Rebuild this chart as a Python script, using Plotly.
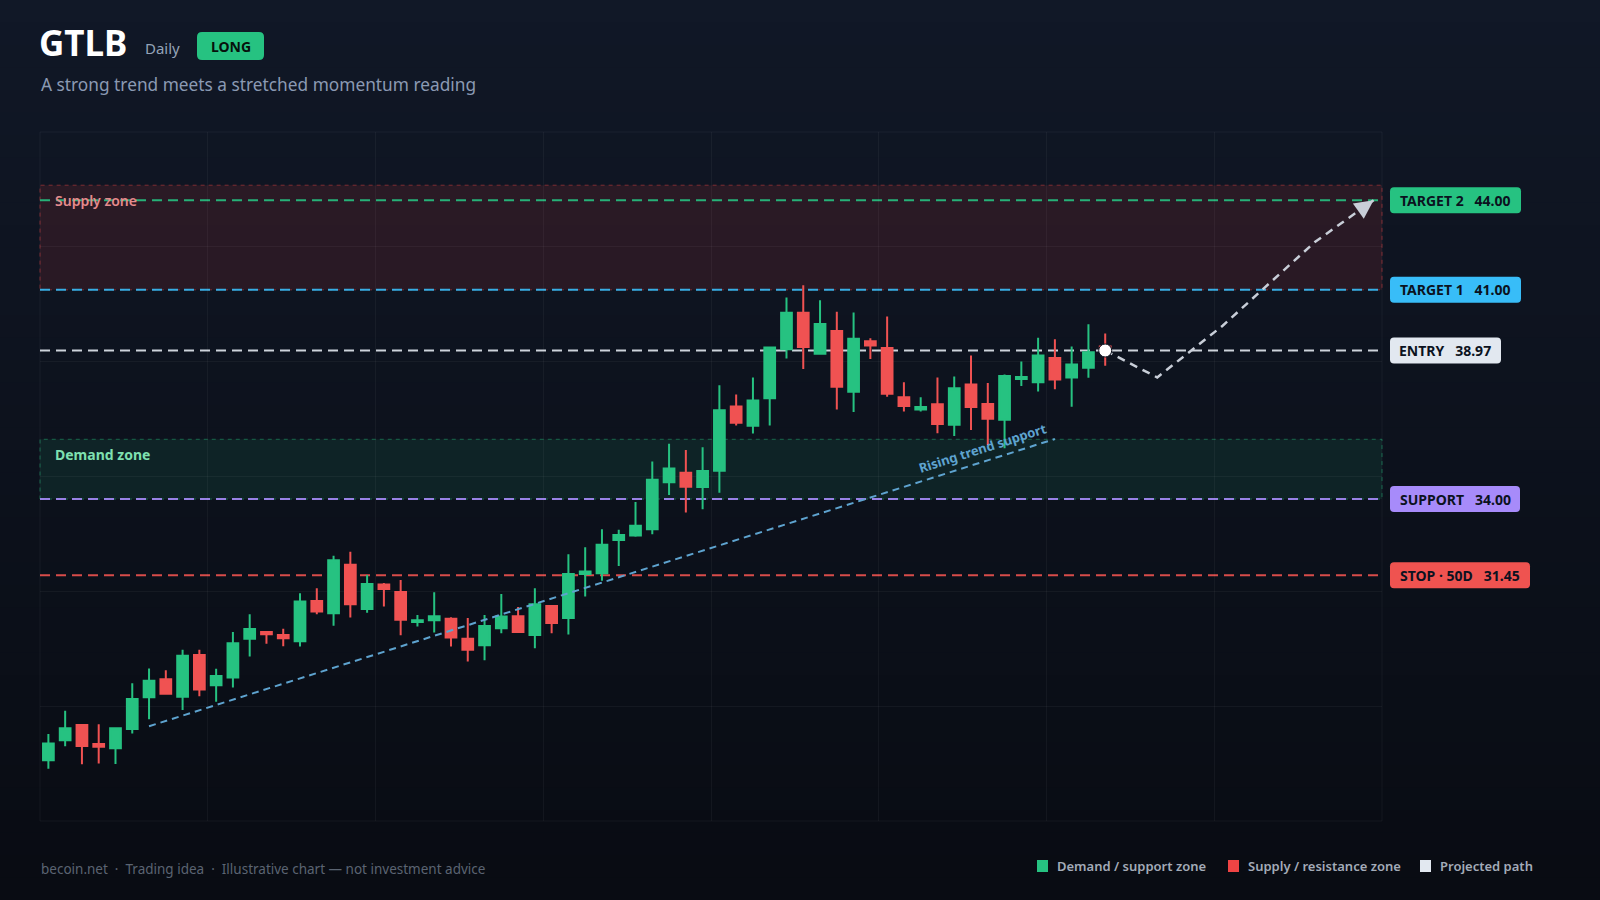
import numpy as np
import plotly.graph_objects as go

# --- data (daily candles, index-based x) ---
opens = [25.26, 25.93, 26.44, 25.81, 25.66, 26.31, 27.37, 27.97, 27.39, 28.78,
         27.77, 28.03, 29.33, 29.55, 29.45, 29.24, 30.59, 30.18, 31.80, 30.32,
         31.14, 30.89, 29.89, 29.95, 30.00, 29.33, 29.11, 29.68, 30.08, 29.45,
         30.42, 30.02, 31.49, 31.52, 32.63, 32.78, 32.99, 34.56, 34.88, 34.40,
         34.95, 37.10, 36.45, 37.37, 39.01, 40.23, 38.86, 39.62, 37.59, 39.28,
         39.05, 37.41, 37.00, 37.17, 36.49, 37.83, 37.18, 36.65, 38.02, 37.91,
         38.72, 38.07, 38.39, 39.10]
highs = [26.14, 26.92, 26.47, 26.47, 26.35, 27.84, 28.33, 28.27, 28.96, 28.96,
         28.32, 29.55, 30.15, 29.56, 29.66, 30.85, 31.02, 32.10, 32.24, 31.46,
         31.19, 31.29, 30.12, 30.88, 30.05, 30.02, 30.12, 30.82, 30.39, 31.02,
         30.45, 32.15, 32.39, 32.99, 32.97, 33.90, 35.26, 35.85, 35.64, 35.73,
         37.81, 37.50, 38.07, 39.10, 40.74, 41.15, 40.65, 40.27, 40.24, 39.38,
         40.11, 37.91, 37.41, 38.07, 38.10, 38.80, 37.88, 38.17, 38.60, 39.40,
         39.35, 39.10, 39.85, 39.54]
lows = [24.98, 25.73, 25.13, 25.15, 25.14, 26.16, 26.63, 27.45, 26.94, 27.40,
        27.22, 27.70, 28.73, 29.16, 29.08, 29.07, 30.15, 29.76, 30.04, 30.20,
        30.41, 29.44, 29.74, 29.54, 29.07, 28.57, 28.61, 29.51, 29.55, 29.01,
        29.51, 29.47, 30.74, 31.27, 31.76, 32.74, 32.82, 34.14, 33.55, 33.66,
        34.21, 36.46, 36.19, 36.46, 38.70, 38.35, 38.84, 37.00, 36.91, 38.69,
        37.42, 36.93, 36.93, 36.20, 36.11, 36.31, 35.81, 35.70, 37.78, 37.60,
        37.67, 37.09, 38.06, 38.46]
closes = [25.82, 26.33, 25.74, 25.71, 26.33, 27.31, 27.92, 27.49, 28.76, 27.63,
          28.08, 29.18, 29.65, 29.48, 29.34, 30.57, 30.24, 31.95, 30.48, 31.16,
          30.99, 29.96, 29.95, 30.08, 29.37, 28.96, 29.75, 30.07, 29.55, 30.48,
          29.85, 31.49, 31.58, 32.47, 32.80, 33.11, 34.65, 35.02, 34.41, 34.94,
          36.97, 36.55, 37.30, 39.07, 40.23, 39.09, 39.86, 37.76, 39.36, 39.14,
          37.52, 37.11, 37.08, 36.51, 37.71, 37.08, 36.69, 38.12, 38.08, 38.80,
          38.00, 38.50, 38.91, 38.97]
bars = list(range(len(closes)))

# key levels
level_names = ["TARGET 2", "TARGET 1", "ENTRY", "SUPPORT", "STOP · 50D"]
level_values = [44.00, 41.00, 38.97, 34.00, 31.45]
level_colors = ["#26c281", "#38bdf8", "#e2e8f0", "#a78bfa", "#ef5350"]
label_widths = [131, 131, 111, 130, 140]

supply_zone = (41.0, 44.5)
demand_zone = (34.0, 36.0)

trend_x = [6, 60]
trend_y = [26.40, 36.01]

proj_x = [63, 66.1, 70, 75.5, 79]
proj_y = [38.97, 38.07, 39.80, 42.60, 44.00]

X_RANGE = [-0.5, 79.5]
Y_RANGE = [23.23, 46.28]

GREEN = "#26c281"
RED = "#f05252"

W, H = 1600, 900
ML, MR, MT, MB = 40, 218, 132, 79
PW, PH = W - ML - MR, H - MT - MB
Y_PER_PX = (Y_RANGE[1] - Y_RANGE[0]) / PH


def px(x):
    return (x - ML) / PW


def py(y):
    return (H - MB - y) / PH


def rounded_box(x0, x1, yc, h_px, r_px, yref_data=True):
    # x0/x1 in pixels; yc in data units (or pixels if yref_data is False)
    rx = r_px / PW
    a, b = px(x0), px(x1)
    if yref_data:
        ry = r_px * Y_PER_PX
        lo, hi = yc - h_px / 2 * Y_PER_PX, yc + h_px / 2 * Y_PER_PX
    else:
        ry = r_px / PH
        lo, hi = py(yc + h_px / 2), py(yc - h_px / 2)
    return (f"M {a + rx},{lo} L {b - rx},{lo} Q {b},{lo} {b},{lo + ry} "
            f"L {b},{hi - ry} Q {b},{hi} {b - rx},{hi} L {a + rx},{hi} "
            f"Q {a},{hi} {a},{hi - ry} L {a},{lo + ry} Q {a},{lo} {a + rx},{lo} Z")


fig = go.Figure()

fig.add_trace(
    go.Candlestick(
        x=bars,
        open=opens,
        high=highs,
        low=lows,
        close=closes,
        increasing=dict(line=dict(color=GREEN, width=2), fillcolor=GREEN),
        decreasing=dict(line=dict(color=RED, width=2), fillcolor=RED),
        whiskerwidth=0,
        showlegend=False,
        hoverinfo="skip",
    )
)

fig.add_trace(
    go.Scatter(
        x=trend_x, y=trend_y, mode="lines",
        line=dict(color="#5ea3cf", width=2, dash="7px,5px"),
        showlegend=False, hoverinfo="skip",
    )
)

fig.add_trace(
    go.Scatter(
        x=proj_x, y=proj_y, mode="lines",
        line=dict(color="#c8ced8", width=2.5, dash="8px,6px"),
        showlegend=False, hoverinfo="skip",
    )
)

fig.add_trace(
    go.Scatter(
        x=[proj_x[0]], y=[proj_y[0]], mode="markers",
        marker=dict(color="white", size=13, line=dict(color="#0d1220", width=1)),
        showlegend=False, hoverinfo="skip",
    )
)

shapes = []

# background gradient (top -> bottom)
top_rgb = np.array([17, 24, 39])
bot_rgb = np.array([9, 12, 19])
n_bands = 40
for i in range(n_bands):
    t = i / (n_bands - 1)
    c = (top_rgb + (bot_rgb - top_rgb) * t).astype(int)
    y0 = i * H / n_bands
    y1 = (i + 1) * H / n_bands + 1
    shapes.append(dict(
        type="rect", xref="paper", yref="paper",
        x0=px(0), x1=px(W), y0=py(y1), y1=py(y0),
        fillcolor=f"rgb({c[0]},{c[1]},{c[2]})", line=dict(width=0), layer="below",
    ))

# plot frame
shapes.append(dict(type="rect", xref="paper", yref="paper", x0=0, x1=1, y0=0, y1=1,
                   line=dict(color="rgba(255,255,255,0.05)", width=1), layer="below"))

# zones
shapes.append(dict(type="rect", xref="paper", yref="y", x0=0, x1=1,
                   y0=supply_zone[0], y1=supply_zone[1],
                   fillcolor="rgba(239,68,68,0.12)",
                   line=dict(color="rgba(239,68,68,0.45)", width=1, dash="4px,4px"),
                   layer="between"))
shapes.append(dict(type="rect", xref="paper", yref="y", x0=0, x1=1,
                   y0=demand_zone[0], y1=demand_zone[1],
                   fillcolor="rgba(38,194,129,0.10)",
                   line=dict(color="rgba(38,194,129,0.45)", width=1, dash="4px,4px"),
                   layer="between"))

# level lines
for val, col in zip(level_values, level_colors):
    shapes.append(dict(type="line", xref="paper", yref="y", x0=0, x1=1, y0=val, y1=val,
                       line=dict(color=col, width=2, dash="10px,6px"), opacity=0.9,
                       layer="between"))

# right-side label boxes (rounded)
for val, col, w in zip(level_values, level_colors, label_widths):
    shapes.append(dict(type="path", xref="paper", yref="y",
                       path=rounded_box(1390, 1390 + w, val, 26, 4),
                       fillcolor=col, line=dict(width=0), layer="above"))

# LONG badge
shapes.append(dict(type="path", xref="paper", yref="paper",
                   path=rounded_box(197, 264, 46, 28, 5, yref_data=False),
                   fillcolor=GREEN, line=dict(width=0), layer="above"))

# legend squares
legend_items = [("Demand / support zone", GREEN, 1037), ("Supply / resistance zone", "#ef4444", 1228),
                ("Projected path", "#e2e8f0", 1420)]
for _, col, lx in legend_items:
    shapes.append(dict(type="rect", xref="paper", yref="paper",
                       x0=px(lx), x1=px(lx + 11), y0=py(872), y1=py(860),
                       fillcolor=col, line=dict(width=0), layer="above"))

annotations = []
FONT = "Noto Sans"

# header
annotations.append(dict(xref="paper", yref="paper", x=px(37), y=py(42), xanchor="left", yanchor="middle",
                        text="<b>GTLB</b>", showarrow=False,
                        font=dict(family=FONT, size=35, color="white", weight=900)))
annotations.append(dict(xref="paper", yref="paper", x=px(143), y=py(48), xanchor="left", yanchor="middle",
                        text="Daily", showarrow=False, font=dict(family=FONT, size=15, color="#94a3b8")))
annotations.append(dict(xref="paper", yref="paper", x=px(230.5), y=py(46), xanchor="center", yanchor="middle",
                        text="<b>LONG</b>", showarrow=False,
                        font=dict(family=FONT, size=14, color="#07110c")))
annotations.append(dict(xref="paper", yref="paper", x=px(39), y=py(84), xanchor="left", yanchor="middle",
                        text="A strong trend meets a stretched momentum reading", showarrow=False,
                        font=dict(family=FONT, size=17.3, color="#8b9ab3")))

# right-side level labels
for name, val, w in zip(level_names, level_values, label_widths):
    annotations.append(dict(xref="paper", yref="y", x=px(1390 + w / 2), y=val, xanchor="center",
                            yanchor="middle", text=f"<b>{name}\u00a0\u00a0\u00a0{val:.2f}</b>",
                            showarrow=False, font=dict(family=FONT, size=14, color="#0b1220")))

# zone labels
annotations.append(dict(x=0.25, y=44.0, xanchor="left", yanchor="middle", text="Supply zone",
                        showarrow=False, font=dict(family=FONT, size=14, color="#e58b8d", weight=600)))
annotations.append(dict(x=0.25, y=35.5, xanchor="left", yanchor="middle", text="<b>Demand zone</b>",
                        showarrow=False, font=dict(family=FONT, size=14, color="#7ee0b0")))
annotations.append(dict(x=55.7, y=35.71, xanchor="center", yanchor="middle", text="<b>Rising trend support</b>",
                        textangle=-17.7, showarrow=False, font=dict(family=FONT, size=13, color="#5ea3cf")))

# arrow head at end of projected path
annotations.append(dict(x=proj_x[-1], y=proj_y[-1], ax=78.35, ay=43.74, axref="x", ayref="y",
                        text="", showarrow=True, arrowhead=2, arrowsize=1.5, arrowwidth=2.5,
                        arrowcolor="#c8ced8", standoff=0))

# footer
annotations.append(dict(xref="paper", yref="paper", x=px(39), y=py(869), xanchor="left", yanchor="middle",
                        text="becoin.net  ·  Trading idea  ·  Illustrative chart — not investment advice",
                        showarrow=False, font=dict(family=FONT, size=13.5, color="#5b6472")))
for label, _, lx in legend_items:
    annotations.append(dict(xref="paper", yref="paper", x=px(lx + 18), y=py(866), xanchor="left",
                            yanchor="middle", text=label, showarrow=False,
                            font=dict(family=FONT, size=13, color="#a3abb8", weight=600)))

grid = "rgba(255,255,255,0.045)"
fig.update_layout(
    width=W,
    height=H,
    margin=dict(l=ML, r=MR, t=MT, b=MB),
    paper_bgcolor="#0b0f19",
    plot_bgcolor="rgba(0,0,0,0)",
    shapes=shapes,
    annotations=annotations,
    showlegend=False,
    boxgap=0.2,
    boxgroupgap=0.2,
    xaxis=dict(range=X_RANGE, tickvals=list(np.arange(X_RANGE[0], X_RANGE[1] + 1, 10)),
               showticklabels=False, showgrid=True, gridcolor=grid, zeroline=False,
               rangeslider=dict(visible=False), fixedrange=True),
    yaxis=dict(range=Y_RANGE, tickvals=list(np.linspace(Y_RANGE[0], Y_RANGE[1], 7)),
               showticklabels=False, showgrid=True, gridcolor=grid, zeroline=False, fixedrange=True),
)

fig.write_html(
    "out.html",
    config={"displayModeBar": False},
    post_script="document.body.style.margin='0';document.body.style.background='#0b0f19';"
                "document.body.style.overflow='hidden';",
)
